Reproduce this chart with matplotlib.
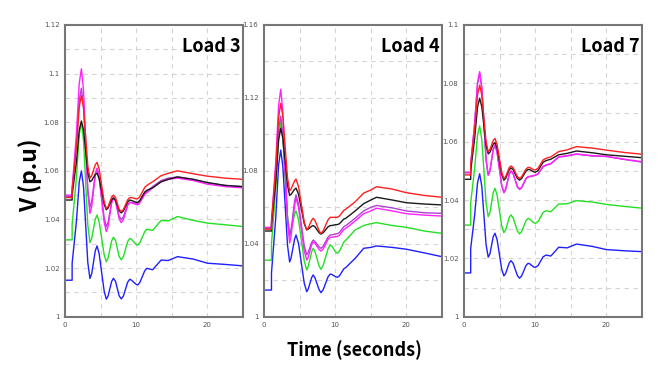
import matplotlib
matplotlib.use("Agg")
import matplotlib.pyplot as plt

# time axis (s) and voltages (p.u)
t3 = [0, 1.0, 1.0, 1.6, 2.0, 2.3, 2.6, 3.2, 3.5, 3.75, 4.25, 4.5, 4.8, 5.5, 5.8, 6.05, 6.55, 6.8, 7.1, 7.6, 7.9, 8.2, 8.8, 9.1, 9.35, 9.95, 10.2, 10.5, 11.2, 11.5, 12.3, 13.5, 14.5, 15.8, 18, 20, 22.5, 25]
red3 = [1.049, 1.049, 1.052, 1.0696, 1.0863, 1.091, 1.0859, 1.0621, 1.057, 1.058, 1.0625, 1.0635, 1.0607, 1.0473, 1.0445, 1.0453, 1.0492, 1.050, 1.049, 1.0442, 1.0432, 1.0441, 1.0481, 1.049, 1.049, 1.0485, 1.0485, 1.0493, 1.0532, 1.054, 1.0555, 1.058, 1.059, 1.060, 1.0588, 1.0578, 1.057, 1.0565]
black3 = [1.048, 1.048, 1.050, 1.0637, 1.0768, 1.0805, 1.0768, 1.0593, 1.0555, 1.0560, 1.0585, 1.059, 1.0568, 1.0462, 1.044, 1.0447, 1.0481, 1.0488, 1.0479, 1.0436, 1.0427, 1.0435, 1.0472, 1.048, 1.0478, 1.0471, 1.047, 1.0478, 1.0513, 1.052, 1.053, 1.0555, 1.0565, 1.0575, 1.0565, 1.0552, 1.054, 1.0535]
violet3 = [1.0495, 1.0495, 1.052, 1.0709, 1.089, 1.094, 1.0867, 1.0524, 1.045, 1.0474, 1.0586, 1.061, 1.0574, 1.0406, 1.037, 1.0388, 1.0472, 1.049, 1.0477, 1.0413, 1.040, 1.0411, 1.046, 1.047, 1.047, 1.0466, 1.0465, 1.0473, 1.0508, 1.0515, 1.0535, 1.056, 1.057, 1.0575, 1.0565, 1.055, 1.054, 1.0535]
magenta3 = [1.050, 1.050, 1.053, 1.075, 1.0961, 1.102, 1.0931, 1.0514, 1.0425, 1.0453, 1.0582, 1.061, 1.0571, 1.0389, 1.035, 1.0371, 1.0469, 1.049, 1.0475, 1.0402, 1.0387, 1.0399, 1.0458, 1.047, 1.0468, 1.0462, 1.046, 1.0468, 1.0503, 1.051, 1.053, 1.0555, 1.0565, 1.057, 1.056, 1.0545, 1.0535, 1.053]
green3 = [1.0316, 1.0316, 1.038, 1.0569, 1.075, 1.080, 1.0726, 1.0379, 1.0305, 1.0322, 1.0401, 1.0418, 1.0389, 1.0255, 1.0226, 1.0241, 1.0312, 1.0327, 1.0313, 1.0248, 1.0234, 1.0247, 1.0309, 1.0322, 1.0318, 1.0298, 1.0294, 1.0304, 1.035, 1.036, 1.0355, 1.0396, 1.0394, 1.0412, 1.0396, 1.0385, 1.0378, 1.0371]
blue3 = [1.015, 1.015, 1.022, 1.0391, 1.0554, 1.060, 1.0534, 1.0223, 1.0157, 1.0177, 1.0271, 1.0291, 1.0258, 1.0105, 1.0072, 1.0085, 1.0145, 1.0158, 1.0145, 1.0086, 1.0073, 1.0085, 1.0142, 1.0154, 1.015, 1.0134, 1.013, 1.014, 1.0189, 1.0199, 1.0193, 1.0233, 1.0231, 1.0247, 1.0237, 1.022, 1.0215, 1.0209]

t4 = [0, 1.05, 1.05, 1.65, 2.05, 2.35, 2.65, 3.3, 3.6, 3.8, 4.3, 4.5, 4.85, 5.65, 6.0, 6.2, 6.7, 6.9, 7.15, 7.75, 8.0, 8.3, 9.0, 9.3, 9.55, 10.05, 10.3, 10.6, 11.2, 11.5, 12.8, 14.0, 15.0, 15.8, 18, 20, 22.5, 25]
red4 = [1.048, 1.048, 1.052, 1.0813, 1.1092, 1.117, 1.1098, 1.0762, 1.069, 1.070, 1.0745, 1.0755, 1.0713, 1.0518, 1.0476, 1.0486, 1.053, 1.054, 1.0528, 1.047, 1.0457, 1.047, 1.0532, 1.0545, 1.0545, 1.0545, 1.0545, 1.0552, 1.0583, 1.059, 1.063, 1.0678, 1.0695, 1.0713, 1.070, 1.068, 1.0665, 1.0655]
black4 = [1.047, 1.047, 1.050, 1.074, 1.0969, 1.1033, 1.0978, 1.072, 1.0665, 1.0671, 1.0699, 1.0705, 1.0671, 1.051, 1.0476, 1.048, 1.0496, 1.050, 1.0493, 1.046, 1.0453, 1.046, 1.0493, 1.050, 1.050, 1.0505, 1.0505, 1.051, 1.0535, 1.054, 1.058, 1.062, 1.064, 1.0655, 1.064, 1.0625, 1.0618, 1.0613]
violet4 = [1.0485, 1.0485, 1.051, 1.0776, 1.1029, 1.110, 1.1001, 1.0539, 1.044, 1.0474, 1.0634, 1.0668, 1.0619, 1.0389, 1.034, 1.0352, 1.0408, 1.042, 1.0413, 1.0382, 1.0375, 1.0386, 1.0437, 1.0448, 1.0449, 1.0454, 1.0455, 1.0462, 1.0493, 1.050, 1.054, 1.058, 1.060, 1.061, 1.0597, 1.058, 1.057, 1.0567]
magenta4 = [1.049, 1.049, 1.052, 1.0847, 1.116, 1.1247, 1.1121, 1.053, 1.0404, 1.0441, 1.0613, 1.065, 1.0599, 1.0361, 1.031, 1.0325, 1.0395, 1.041, 1.0403, 1.0368, 1.036, 1.0371, 1.0424, 1.0435, 1.0436, 1.0439, 1.044, 1.0447, 1.0478, 1.0485, 1.0525, 1.0565, 1.058, 1.0595, 1.058, 1.0565, 1.0557, 1.0552]
green4 = [1.031, 1.031, 1.040, 1.070, 1.0986, 1.1066, 1.0975, 1.0552, 1.046, 1.0478, 1.0563, 1.0581, 1.0532, 1.0305, 1.0256, 1.0274, 1.0357, 1.0375, 1.0358, 1.0277, 1.026, 1.028, 1.0373, 1.0393, 1.0386, 1.0355, 1.0348, 1.0359, 1.0409, 1.042, 1.0476, 1.050, 1.051, 1.0516, 1.050, 1.049, 1.047, 1.0457]
blue4 = [1.0146, 1.0146, 1.024, 1.0543, 1.0833, 1.0914, 1.0822, 1.0392, 1.030, 1.0322, 1.0426, 1.0448, 1.0401, 1.0184, 1.0137, 1.0151, 1.0215, 1.0229, 1.0214, 1.0147, 1.0132, 1.0147, 1.0219, 1.0234, 1.0231, 1.0219, 1.0216, 1.0224, 1.0262, 1.027, 1.032, 1.0375, 1.038, 1.0388, 1.038, 1.037, 1.035, 1.0329]

t7 = [0, 0.94, 0.94, 1.5, 1.9, 2.2, 2.5, 3.1, 3.4, 3.65, 4.1, 4.35, 4.65, 5.3, 5.6, 5.85, 6.35, 6.6, 6.9, 7.5, 7.8, 8.1, 8.7, 9.0, 9.25, 9.75, 10.0, 10.4, 11.1, 11.5, 12.2, 13.3, 14.5, 15.8, 18, 20, 22.5, 25]
red7 = [1.0486, 1.0486, 1.052, 1.0643, 1.0761, 1.0794, 1.076, 1.060, 1.0566, 1.0573, 1.0604, 1.0611, 1.059, 1.0495, 1.0474, 1.048, 1.0511, 1.0517, 1.0511, 1.048, 1.0474, 1.048, 1.0506, 1.0512, 1.0511, 1.0504, 1.0503, 1.0509, 1.0537, 1.0543, 1.0548, 1.0566, 1.0572, 1.0583, 1.0578, 1.0571, 1.0563, 1.0557]
black7 = [1.0471, 1.0471, 1.050, 1.0612, 1.0719, 1.0749, 1.072, 1.0587, 1.0558, 1.0564, 1.0591, 1.0597, 1.0578, 1.0487, 1.0468, 1.0474, 1.0504, 1.051, 1.0504, 1.0474, 1.0468, 1.0474, 1.0499, 1.0505, 1.0504, 1.0497, 1.0495, 1.0501, 1.0529, 1.0535, 1.054, 1.0555, 1.056, 1.0568, 1.0562, 1.0555, 1.055, 1.0545]
violet7 = [1.0493, 1.0493, 1.0518, 1.0662, 1.0798, 1.0835, 1.0784, 1.0538, 1.0485, 1.05, 1.0572, 1.0587, 1.0563, 1.0449, 1.0425, 1.0436, 1.0488, 1.0499, 1.049, 1.0445, 1.0436, 1.0442, 1.0473, 1.0479, 1.048, 1.0483, 1.0484, 1.0489, 1.0514, 1.0519, 1.0524, 1.0547, 1.0551, 1.0557, 1.0551, 1.0549, 1.0539, 1.053]
magenta7 = [1.0495, 1.0495, 1.052, 1.0664, 1.0802, 1.084, 1.0787, 1.0539, 1.0486, 1.0501, 1.0574, 1.0589, 1.0565, 1.045, 1.0426, 1.0437, 1.0489, 1.050, 1.0491, 1.0446, 1.0437, 1.0443, 1.0474, 1.048, 1.0481, 1.0484, 1.0485, 1.049, 1.0515, 1.052, 1.0525, 1.0548, 1.0552, 1.0558, 1.0552, 1.055, 1.054, 1.0531]
green7 = [1.0314, 1.0314, 1.039, 1.0509, 1.0622, 1.0654, 1.0607, 1.039, 1.0343, 1.0358, 1.0425, 1.044, 1.0417, 1.0311, 1.0288, 1.0297, 1.034, 1.0349, 1.0339, 1.0294, 1.0284, 1.0292, 1.0329, 1.0337, 1.0334, 1.0323, 1.032, 1.0326, 1.0357, 1.0363, 1.036, 1.0386, 1.0387, 1.0398, 1.0393, 1.0385, 1.0378, 1.0372]
blue7 = [1.015, 1.015, 1.0234, 1.0349, 1.0459, 1.049, 1.0447, 1.0247, 1.0204, 1.0216, 1.0274, 1.0286, 1.0264, 1.0162, 1.014, 1.0148, 1.0184, 1.0192, 1.0183, 1.0141, 1.0132, 1.014, 1.0175, 1.0183, 1.0181, 1.0171, 1.0169, 1.0175, 1.0205, 1.0211, 1.0208, 1.0238, 1.0236, 1.0249, 1.0241, 1.023, 1.0226, 1.0223]

titles = ["Load 3", "Load 4", "Load 7"]
ylims = [(1.0, 1.12), (1.0, 1.16), (1.0, 1.10)]
ymajor = [0.02, 0.04, 0.02]
ygrid = [0.01, 0.02, 0.01]

panels = [
    (t3, [blue3, green3, violet3, magenta3, black3, red3]),
    (t4, [blue4, green4, violet4, magenta4, black4, red4]),
    (t7, [blue7, green7, violet7, magenta7, black7, red7]),
]
colors = ["#1f1fff", "#22e022", "#b040d8", "#ff22ff", "#1a1a1a", "#ff1f1f"]

fig = plt.figure(figsize=(6.62, 3.77), dpi=100)
lefts = [0.0982, 0.3988, 0.7009]
font = ["Noto Sans CJK KR", "DejaVu Sans"]

for i in range(3):
    ax = fig.add_axes([lefts[i], 0.160, 0.2689, 0.7737])
    t, series = panels[i]
    for s, c in zip(series, colors):
        ax.plot(t, s, color=c, lw=1.0, solid_joinstyle="round")
    lo, hi = ylims[i]
    ax.set_xlim(0, 25)
    ax.set_ylim(lo, hi)
    n = int(round((hi - lo) / ygrid[i]))
    for k in range(1, n):
        ax.axhline(lo + k * ygrid[i], color="#d4d4d4", lw=0.8, ls=(0, (4, 4)), zorder=0)
    for x in [5, 10, 15, 20]:
        ax.axvline(x, color="#d4d4d4", lw=0.8, ls=(0, (4, 4)), zorder=0)
    m = int(round((hi - lo) / ymajor[i]))
    yt = [lo + k * ymajor[i] for k in range(m + 1)]
    ax.set_yticks(yt)
    ax.set_yticklabels(["%g" % round(v, 2) for v in yt])
    ax.set_xticks([0, 10, 20])
    ax.tick_params(length=0, labelsize=5, labelcolor="#555555", pad=4)
    for sp in ax.spines.values():
        sp.set_color("#777777")
        sp.set_linewidth(1.5)
    ax.text(0.985, 0.925, titles[i], transform=ax.transAxes, ha="right", va="center",
            fontsize=13, fontweight="bold", family=font)

fig.text(0.045, 0.535, "V (p.u)", rotation=90, ha="center", va="center",
         fontsize=16.5, fontweight="bold", family=font)
fig.text(0.535, 0.072, "Time (seconds)", ha="center", va="center",
         fontsize=13, fontweight="bold", family=font)

fig.savefig("out.png", dpi=100)
